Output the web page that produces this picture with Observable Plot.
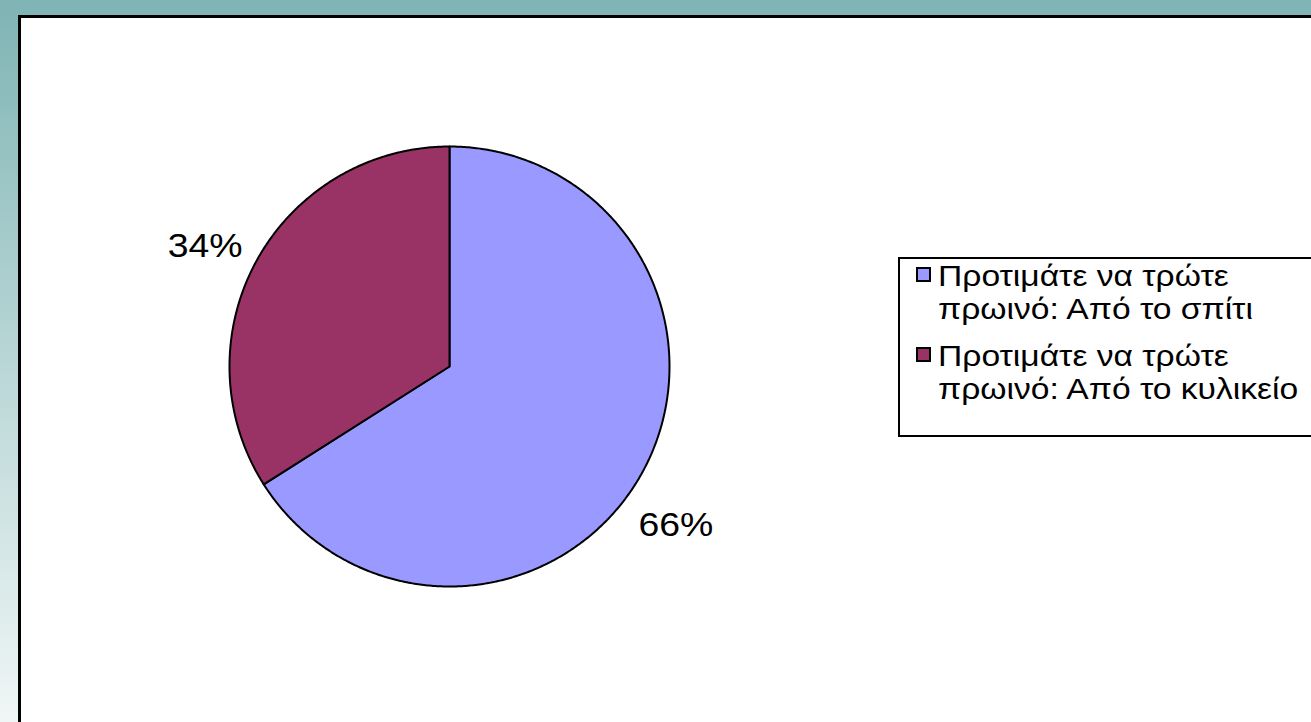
<!DOCTYPE html>
<html>
<head>
<meta charset="utf-8">
<script src="https://cdn.jsdelivr.net/npm/d3@7"></script>
<script src="https://cdn.jsdelivr.net/npm/@observablehq/plot@0.6"></script>
<style>
  html, body { margin: 0; padding: 0; }
  body {
    width: 1311px; height: 722px; overflow: hidden; position: relative;
    background: linear-gradient(to bottom, #7fb4b4 0%, #b9d6d6 50%, #f0f6f6 100%);
    font-family: "Liberation Sans", Arial, sans-serif;
  }
  #panel {
    position: absolute; left: 18px; top: 15px; width: 1330px; height: 740px;
    background: #ffffff; border-left: 3px solid #000; border-top: 3px solid #000;
  }
  #chart { position: absolute; left: 0; top: 0; }
  #legend {
    position: absolute; left: 898px; top: 257px; width: 440px; height: 180px;
    border: 2px solid #000; background: #fff; box-sizing: border-box;
  }
  .item { position: absolute; left: 16px; font-size: 30px; line-height: 33px; color: #000; }
  .sw { position: absolute; left: 0; top: 8px; width: 11px; height: 11px; border: 2px solid #000; }
  .txt { position: absolute; left: 22px; white-space: nowrap; transform: scaleX(1.12); transform-origin: 0 0; }
</style>
</head>
<body>
<div id="panel"></div>
<div id="chart"></div>
<div id="legend"></div>
<script>
const categories = ["Προτιμάτε να τρώτε πρωινό: Από το σπίτι", "Προτιμάτε να τρώτε πρωινό: Από το κυλικείο"];
const legendLine1 = ["Προτιμάτε να τρώτε", "Προτιμάτε να τρώτε"];
const legendLine2 = ["πρωινό: Από το σπίτι", "πρωινό: Από το κυλικείο"];
const values = [66, 34];
const labels = ["66%", "34%"];
const colors = ["#9999FF", "#993366"];

const arcs = d3.pie().sort(null).value(d => d)(values);
const points = [];
arcs.forEach((a, i) => {
  points.push({cat: categories[i], x: 0, y: 0});
  const n = Math.max(2, Math.ceil((a.endAngle - a.startAngle) / (Math.PI / 360)));
  for (let k = 0; k <= n; k++) {
    const t = a.startAngle + (a.endAngle - a.startAngle) * k / n;
    points.push({cat: categories[i], x: Math.sin(t), y: Math.cos(t)});
  }
  points.push({cat: categories[i], x: 0, y: 0});
});
const labelData = arcs.map((a, i) => {
  const m = (a.startAngle + a.endAngle) / 2;
  return {text: labels[i], x: 1.2 * Math.sin(m), y: 1.2 * Math.cos(m)};
});

// stretch label glyphs slightly horizontally like the original rendering
const stretch = (index, scales, values, dims, ctx, next) => {
  const g = next(index, scales, values, dims, ctx);
  g.querySelectorAll("text").forEach(t => {
    const tr = t.getAttribute("transform") || "";
    t.setAttribute("transform", tr + " scale(1.1,1)");
  });
  return g;
};
const textStyle = {x: "x", y: "y", text: "text", fontSize: 34, fill: "#000",
  fontFamily: "Liberation Sans, Arial, sans-serif", render: stretch};

const chart = Plot.plot({
  width: 1311, height: 722, margin: 0,
  style: {background: "transparent", overflow: "visible"},
  x: {domain: [-1, 1], range: [229, 669], axis: null},
  y: {domain: [-1, 1], range: [586, 146], axis: null},
  color: {domain: categories, range: colors},
  marks: [
    Plot.line(points, {x: "x", y: "y", z: "cat", fill: "cat", stroke: "#000", strokeWidth: 2, strokeLinejoin: "round"}),
    Plot.text(labelData.slice(0, 1), {...textStyle, dx: -5, dy: 31}),
    Plot.text(labelData.slice(1, 2), {...textStyle, dx: -13, dy: 7})
  ]
});
document.getElementById("chart").appendChild(chart);

const legend = document.getElementById("legend");
categories.forEach((c, i) => {
  const item = document.createElement("div");
  item.className = "item";
  item.style.top = (i === 0 ? 0 : 80) + "px";
  const sw = document.createElement("div");
  sw.className = "sw";
  sw.style.background = colors[i];
  const txt = document.createElement("div");
  txt.className = "txt";
  txt.innerHTML = legendLine1[i] + "<br>" + legendLine2[i];
  item.appendChild(sw);
  item.appendChild(txt);
  legend.appendChild(item);
});
</script>
</body>
</html>
